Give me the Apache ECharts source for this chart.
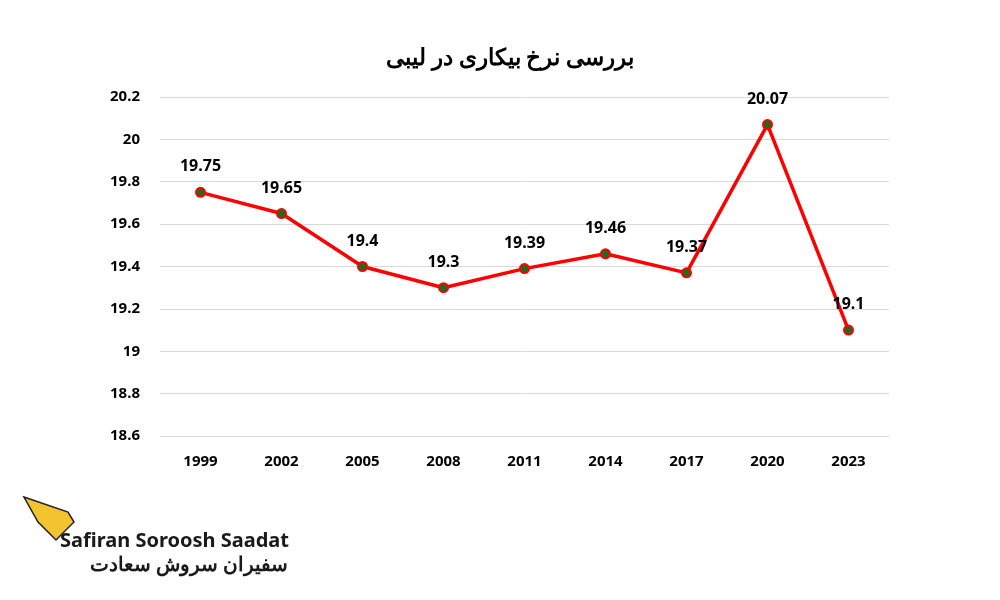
<!DOCTYPE html>
<html><head><meta charset="utf-8">
<script src="https://cdn.jsdelivr.net/npm/echarts@6/dist/echarts.min.js"></script>
<style>html,body{margin:0;background:#fff}#c{width:1000px;height:600px}</style>
</head><body><div id="c"></div>
<script>
const years = ['1999','2002','2005','2008','2011','2014','2017','2020','2023'];
const rates = [19.75,19.65,19.4,19.3,19.39,19.46,19.37,20.07,19.1];
const chart = echarts.init(document.getElementById('c'));
chart.setOption({
  animation:false,
  title:{text:'بررسی نرخ بیکاری در لیبی',left:505,top:42,textAlign:'center',
    textStyle:{fontFamily:'Noto Sans',fontWeight:'bold',fontSize:23,color:'#000'}},
  grid:{left:160,right:111,top:97,bottom:164},
  xAxis:{type:'category',data:years,boundaryGap:true,
    axisLine:{show:false},axisTick:{show:false},
    axisLabel:{margin:18,fontFamily:'Noto Sans',fontWeight:'bold',fontSize:15,color:'#000'}},
  yAxis:{type:'value',min:18.6,max:20.2,interval:0.2,
    axisLine:{show:false},axisTick:{show:false},
    splitLine:{lineStyle:{color:'#d9d9d9',width:1}},
    axisLabel:{margin:20,fontFamily:'Noto Sans',fontWeight:'bold',fontSize:15,color:'#000',
      formatter:v=>String(Math.round(v*10)/10)}},
  series:[{type:'line',data:rates,symbol:'circle',symbolSize:9,
    lineStyle:{color:'#ff0000',width:3.5},
    itemStyle:{color:'#1e6b1e',borderColor:'#ff0000',borderWidth:2},
    label:{show:true,position:'top',distance:12,fontFamily:'Noto Sans',fontWeight:'bold',fontSize:16,color:'#000'}}],
  graphic:[
    {type:'polygon',shape:{points:[[24,497],[68,512],[74,522],[56,540],[38,522]]},style:{fill:'#f4c430',stroke:'#222',lineWidth:1.5}},
    {type:'text',left:60,top:531,style:{text:'Safiran Soroosh Saadat',font:'bold 20px "Noto Sans"',fill:'#1a1a1a'}},
    {type:'text',left:90,top:555,style:{text:'سفیران سروش سعادت',font:'bold 20px "Noto Sans"',fill:'#1a1a1a'}}
  ]
});
</script></body></html>
